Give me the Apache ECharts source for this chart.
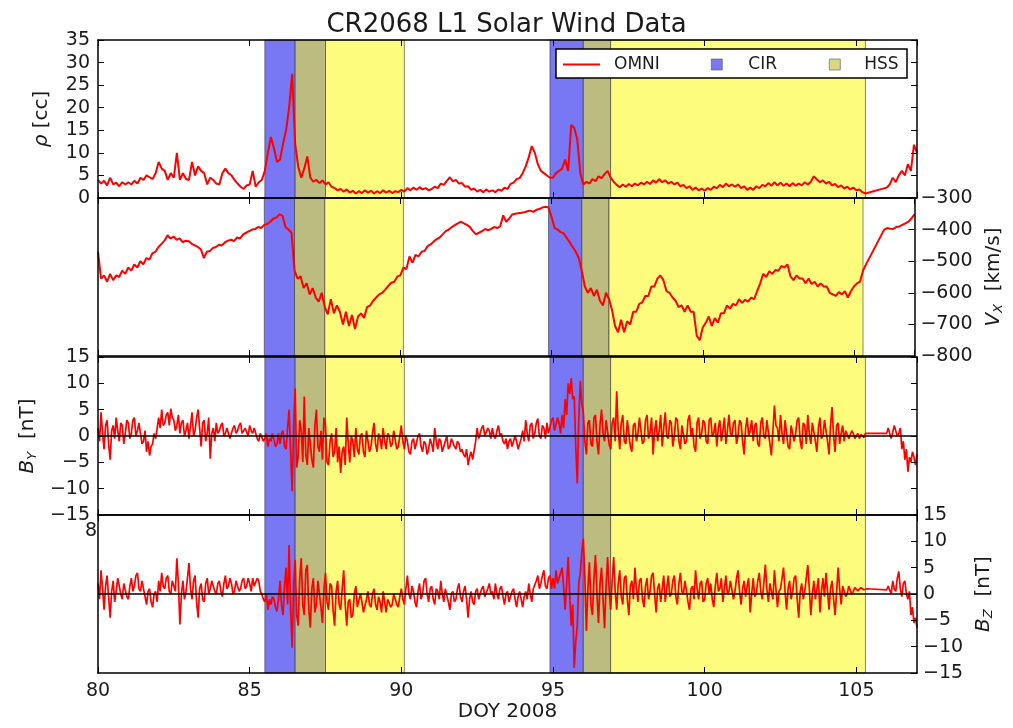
<!DOCTYPE html>
<html>
<head>
<meta charset="utf-8">
<script src="https://cdn.jsdelivr.net/npm/echarts@6/dist/echarts.min.js"></script>
<style>
  html, body { margin: 0; padding: 0; background: #ffffff; }
  #chart { width: 1013px; height: 728px; }
</style>
</head>
<body>
<div id="chart"></div>
<script>
// ---- Solar wind data, Carrington rotation 2068 (DOY 80 to 107, 2008) ----
// Plasma values on a 0.1 day cadence, field values on a 0.05 day cadence,
// both starting at DOY 80. null marks a data gap (bridged by a straight segment).
const T_START = 80;
const PLASMA_STEP = 0.1;
const FIELD_STEP = 0.05;

// Proton density rho [cc]
const rhoValues = [
  4.0,3.2,3.8,2.8,4.5,3.0,3.4,2.6,3.5,3.0,
  3.5,3.0,3.8,3.2,4.5,4.0,5.0,4.6,4.2,5.5,
  8.0,6.5,6.0,4.0,5.5,4.5,10.0,4.0,5.5,4.2,
  4.0,8.0,5.0,7.0,6.0,5.5,3.0,4.5,4.0,3.2,
  3.0,5.5,6.5,5.5,5.0,4.0,3.2,2.5,2.0,2.8,
  3.0,6.0,2.5,3.5,4.0,6.0,10.0,13.5,11.0,8.0,
  8.5,12.0,15.0,20.0,27.5,12.0,7.0,4.5,6.5,9.2,
  4.5,3.6,4.0,3.3,3.9,3.0,3.5,2.5,2.2,1.7,
  2.0,1.4,1.9,1.2,1.6,1.0,1.5,1.1,1.7,1.2,
  1.6,1.0,1.5,1.1,1.7,1.2,1.6,1.1,1.5,1.3,
  1.8,1.4,2.2,1.7,2.3,1.8,2.4,1.9,2.2,1.7,
  2.0,2.5,2.2,3.2,2.9,3.8,4.6,3.7,4.0,3.2,
  3.3,2.5,2.6,1.8,2.1,1.4,1.8,1.3,1.9,1.4,
  1.7,1.3,1.9,1.6,2.3,2.0,3.1,3.4,4.2,4.4,
  5.5,7.0,9.0,11.5,10.0,7.5,6.0,5.5,5.0,4.5,
  4.5,5.5,6.0,6.5,8.5,6.0,16.2,15.5,13.0,5.5,
  3.0,3.6,3.2,4.2,3.7,4.8,4.4,5.3,6.0,4.5,
  3.6,2.9,2.4,3.0,2.5,3.1,2.6,3.2,2.8,3.4,
  3.0,3.6,3.1,3.9,3.4,4.2,3.5,3.9,3.2,3.6,
  3.0,3.4,2.6,2.9,2.2,2.6,1.8,2.3,1.7,2.1,
  1.6,2.2,1.8,2.5,2.2,2.9,2.4,3.2,2.6,3.0,
  2.5,3.0,2.2,2.6,1.8,2.3,1.8,2.6,2.2,2.9,
  2.6,3.3,2.7,3.5,2.8,3.4,2.7,3.2,2.6,3.3,
  2.7,3.2,2.8,3.5,3.0,3.6,4.8,4.1,3.5,3.9,
  3.2,3.6,2.8,3.1,2.4,2.8,2.1,2.5,1.9,2.3,
  1.7,1.9,1.3,1.0,null,null,null,null,null,null,
  2.3,3.0,4.5,3.5,5.0,6.0,5.0,7.5,6.0,11.8,
  10.0
];

// Radial velocity Vx [km/s]
const vxValues = [
  -470,-555,-545,-565,-540,-560,-545,-550,-530,-540,
  -520,-530,-510,-520,-500,-510,-490,-495,-475,-470,
  -455,-445,-435,-418,-428,-422,-432,-428,-440,-435,
  -437,-445,-450,-455,-462,-490,-470,-468,-458,-455,
  -448,-450,-440,-435,-432,-436,-425,-428,-415,-410,
  -405,-400,-398,-392,-395,-385,-382,-375,-365,-362,
  -352,-356,-392,-400,-410,-530,-555,-548,-585,-570,
  -605,-585,-615,-628,-600,-645,-668,-620,-665,-640,
  -660,-700,-660,-705,-670,-715,-675,-665,-680,-645,
  -640,-625,-615,-605,-600,-590,-578,-568,-565,-548,
  -545,-520,-525,-485,-505,-480,-485,-470,-468,-452,
  -447,-438,-430,-425,-415,-405,-400,-392,-386,-380,
  -375,-380,-385,-392,-405,-415,-410,-405,-398,-402,
  -398,-392,-395,-390,-355,-375,-365,-352,-350,-348,
  -347,-345,-342,-340,-344,-337,-335,-330,-328,-330,
  -360,-395,-400,-408,-412,-426,-440,-455,-470,-490,
  -530,-580,-600,-585,-610,-590,-625,-640,-600,-620,
  -655,-705,-725,-685,-725,-690,-700,-660,-660,-635,
  -630,-610,-610,-580,-580,-555,-545,-560,-595,-600,
  -615,-625,-645,-640,-660,-640,-660,-660,-735,-750,
  -710,-695,-675,-705,-680,-695,-665,-665,-640,-650,
  -635,-640,-620,-632,-622,-628,-615,-620,-595,-570,
  -540,-550,-532,-540,-528,-530,-515,-520,-510,-548,
  -560,-545,-555,-555,-570,-555,-572,-565,-580,-570,
  -580,-580,-600,-605,-610,-598,-605,-595,-615,-595,
  -580,-570,-565,-530,-510,null,null,null,null,null,
  -400,-395,-397,-398,-392,-390,-385,-380,-375,-365,
  -352
];

// Magnetic field By [nT]
const byValues = [
  1.5,-1.0,4.5,0.5,-2.5,2.0,3.0,-1.5,-4.5,1.0,2.0,-0.5,3.5,1.0,-1.0,2.5,2.0,-1.5,0.5,3.0,
  2.5,-0.5,0.5,3.0,3.5,0.0,1.0,2.5,2.5,-1.5,-1.0,1.0,-3.0,-1.0,-3.7,-2.0,-1.5,0.5,-0.5,1.5,
  3.5,1.5,5.0,2.0,2.5,4.0,4.5,2.0,5.2,3.5,3.0,1.0,2.0,4.0,0.5,2.5,3.0,0.0,1.0,2.5,
  -0.5,2.0,4.5,0.0,1.0,3.5,5.0,1.5,-2.0,2.5,3.0,-1.0,0.5,3.5,-4.3,0.5,1.5,-1.0,2.5,0.5,
  1.0,2.0,2.5,0.0,0.5,1.5,1.5,-0.5,-0.5,1.5,2.0,0.5,1.0,2.0,2.5,0.5,0.5,1.5,1.5,0.0,
  2.0,1.0,0.5,1.5,1.5,-0.5,-1.0,0.5,0.5,-1.0,-0.5,0.5,-2.0,-0.5,-1.0,0.5,0.5,-2.0,-1.5,0.5,
  -1.5,0.5,1.0,-2.0,-2.5,1.5,5.0,-3.0,-10.5,2.0,9.0,-6.0,-4.0,3.0,1.0,-5.0,7.5,-3.5,-5.5,1.5,
  1.5,-4.5,-6.0,2.0,5.0,-2.0,-3.0,1.0,-4.5,3.5,2.0,-5.0,-5.5,-1.0,0.5,-4.0,-3.0,1.5,-5.0,-2.0,
  -7.0,-3.0,-2.0,-5.5,3.5,-1.5,-5.0,0.0,-1.0,-4.0,1.5,-2.5,-3.5,0.0,0.5,-3.0,-4.0,1.0,-1.0,-3.0,
  -2.0,0.5,2.5,-1.5,-3.0,0.5,-0.5,-2.5,1.5,-1.0,-2.5,0.5,0.0,-2.0,-1.5,1.0,1.0,-2.5,-2.0,0.0,
  2.0,-1.0,-2.5,0.0,-1.0,-3.0,-3.5,-1.0,-0.5,-2.5,-2.5,0.0,0.5,-2.0,-3.0,-1.0,-1.5,-3.5,-2.5,-0.5,
  -1.5,-3.0,1.5,-1.0,-2.5,-0.5,-1.0,-3.0,-3.0,-1.0,0.0,-2.5,-2.0,-0.5,-0.5,-2.0,-2.5,-1.0,-1.5,-3.0,
  -2.5,-3.5,-4.0,-2.5,-5.5,-4.0,-3.0,-4.5,-4.5,-1.0,1.5,-0.5,0.5,1.5,2.0,0.0,0.0,1.5,1.0,-0.5,
  1.5,0.0,-0.5,1.0,2.0,0.0,0.5,-1.0,-1.5,-0.5,-2.5,-1.0,-0.5,-2.0,-2.0,0.0,-1.0,-2.5,-2.5,-0.5,
  1.0,-1.0,3.0,0.5,-1.0,2.0,2.5,-0.5,0.5,2.5,3.3,0.0,-0.5,2.0,1.5,-0.5,2.5,0.5,0.5,3.0,
  3.5,1.0,1.0,3.5,2.5,0.5,4.0,1.5,7.0,4.0,10.0,8.0,11.0,7.0,7.5,-2.0,-9.0,3.0,10.5,6.0,
  4.5,-1.0,-3.5,2.5,3.0,-1.5,-2.0,3.5,4.0,-1.0,-3.5,2.0,5.0,0.5,-1.0,3.0,3.0,-1.5,-2.5,2.5,
  3.5,-1.0,8.5,1.0,-2.5,2.5,4.0,-1.0,-1.5,3.0,3.0,-2.0,-3.0,2.0,2.5,-1.0,0.5,3.5,3.5,-1.5,
  -1.0,3.0,4.0,-0.5,0.5,3.5,-3.5,1.0,3.0,-1.0,1.0,4.0,-2.0,1.5,4.5,0.0,-0.5,3.0,2.5,-2.0,
  0.0,3.5,3.0,-1.0,-2.5,2.0,2.0,-1.5,-1.0,3.0,4.0,0.0,1.5,-2.0,-3.0,2.5,3.5,-0.5,0.5,3.0,
  2.5,-1.0,-1.5,3.0,3.5,0.0,0.5,2.5,-2.0,1.5,3.0,-1.0,1.0,3.5,-1.5,1.0,4.0,0.5,0.0,2.5,
  3.0,-1.5,0.0,3.0,2.5,-1.0,-3.5,1.5,3.5,0.0,1.0,3.0,-1.0,2.0,2.5,-1.5,-2.0,2.5,3.5,0.0,
  -0.5,3.0,3.0,-1.5,-3.7,1.0,5.8,2.0,1.5,-1.0,4.0,0.5,-1.5,3.0,3.0,-2.0,-2.5,2.0,2.0,-1.0,
  0.5,3.0,3.5,-1.0,-2.5,2.5,2.0,-1.5,4.0,0.5,-1.5,2.5,2.5,-1.0,-3.0,1.5,3.5,-0.5,0.0,3.0,
  3.0,-1.0,-3.5,2.0,5.5,0.0,-3.0,2.0,2.5,-1.5,0.5,2.0,-1.0,1.0,1.0,-0.5,-0.5,1.0,0.5,-0.5,
  0.0,0.5,-0.5,0.3,0.3,-0.3,0.5,0.2,null,null,null,null,null,null,null,null,null,null,null,null,
  0.5,1.5,1.5,-0.5,-0.5,2.0,2.0,0.0,0.5,1.5,-2.5,-1.0,-4.5,-2.5,-6.8,-4.0,-5.0,-3.0,-4.0,-5.5,
  -3.5
];

// Magnetic field Bz [nT]
const bzValues = [
  2.0,-1.0,4.5,1.0,-3.0,1.5,3.5,-0.5,-4.5,0.5,2.5,-1.5,0.5,3.0,3.0,0.0,-1.0,2.0,2.0,-0.5,
  -1.0,1.5,3.0,0.5,1.5,3.5,4.0,1.0,0.5,2.5,2.5,-0.5,-2.0,0.5,1.0,-1.5,-2.5,0.0,0.5,-1.5,
  2.5,0.5,4.0,1.5,1.0,3.0,3.5,0.5,0.0,2.5,2.5,0.5,6.8,2.0,-5.8,0.0,2.5,-1.0,0.5,3.0,
  5.9,1.0,-1.0,2.5,3.5,-1.5,-4.5,1.0,2.0,-1.0,-1.5,2.0,3.0,0.0,1.0,2.5,2.5,0.5,0.0,2.0,
  2.5,0.5,-0.5,2.0,3.5,1.0,1.5,3.0,2.0,0.0,0.5,2.5,2.5,0.5,1.0,2.5,3.0,1.0,1.5,3.0,
  2.0,0.5,3.0,1.5,1.5,3.0,2.5,0.5,0.0,-1.0,-1.5,0.0,-3.0,-1.0,-2.0,-0.5,-1.0,-2.5,-3.3,-1.0,
  2.5,-2.0,-4.0,1.5,5.0,-2.0,9.3,-3.0,-10.2,2.0,6.5,-4.0,-6.0,3.0,6.8,-2.0,-4.0,4.5,5.5,-3.0,
  -6.4,1.0,3.0,-3.5,-2.0,2.5,2.5,-2.5,-5.5,1.0,4.0,-1.5,-3.0,2.0,1.5,-3.0,-6.0,0.5,2.5,-2.0,
  -3.0,1.0,4.5,-2.0,-6.0,-1.5,-1.0,-4.5,-4.0,0.0,1.5,-2.5,-2.5,0.0,-1.5,-3.5,-3.5,-1.0,0.5,-2.0,
  -2.5,0.0,1.0,-2.0,-3.0,-0.5,-1.5,-3.5,0.5,-1.5,-3.5,-1.0,-1.0,-2.5,-2.0,0.0,0.0,-2.0,-2.5,-0.5,
  1.0,-1.0,-2.0,1.0,3.5,0.0,-1.0,1.5,0.5,-1.5,-2.5,0.5,2.0,-1.0,0.0,2.5,3.0,0.0,-1.5,1.0,
  1.5,-1.0,-2.0,1.0,0.5,-1.0,2.5,0.0,-1.5,1.0,1.0,-1.5,-3.0,0.0,0.5,-1.5,-1.0,1.0,2.0,-0.5,
  -1.5,0.5,1.5,-1.0,-4.5,-1.0,0.5,-1.5,-2.0,0.5,1.0,-1.0,-1.0,1.0,1.5,-0.5,-0.5,1.0,2.0,0.0,
  0.5,-1.0,2.0,0.0,-1.0,1.0,1.5,-0.5,-2.0,0.0,0.5,-1.5,-1.5,0.5,1.0,-1.0,-2.5,-0.5,0.5,-1.0,
  -2.5,-0.5,0.5,-1.0,2.0,0.0,-1.5,1.0,1.0,2.5,3.5,1.0,2.0,3.5,4.5,1.5,1.0,3.0,3.5,1.0,
  3.0,1.0,4.5,2.0,2.0,4.0,5.0,1.5,-3.0,2.0,7.0,0.0,-6.0,-2.0,-14.0,-9.0,-6.0,2.0,4.0,8.0,
  10.5,3.0,-7.0,1.0,6.0,-2.0,-4.0,3.0,7.4,0.0,-5.5,2.0,5.0,-1.0,-6.5,1.5,7.0,1.0,-3.0,2.5,
  7.0,0.5,-3.0,2.0,4.5,-0.5,-2.0,3.0,3.5,-1.0,-4.0,1.5,2.5,-1.0,5.0,1.0,-1.5,2.5,3.0,-1.0,
  -2.5,1.5,3.0,-1.0,0.5,3.5,4.0,0.0,-3.5,1.0,2.0,-1.5,1.0,3.5,-1.5,1.0,3.5,-0.5,0.0,2.5,
  3.5,-0.5,-2.0,2.0,4.0,0.5,0.0,2.5,2.5,-1.5,-3.0,1.0,1.5,-1.0,4.5,1.0,-1.0,2.0,2.5,-1.5,
  -1.0,2.0,3.0,0.0,2.0,-1.0,-2.5,1.5,4.0,0.5,1.0,3.0,-1.5,1.0,3.5,0.0,0.5,2.5,2.5,-1.0,
  0.5,3.0,4.5,0.5,-2.0,1.0,2.5,-0.5,1.5,3.0,-3.5,0.0,3.0,-0.5,0.0,2.5,4.0,0.5,-1.0,2.0,
  5.6,1.0,-1.5,2.0,2.0,-1.0,4.5,1.0,-2.5,0.5,1.0,3.0,5.0,0.5,-3.0,1.0,2.5,-1.0,0.5,3.0,
  3.5,-1.0,-4.5,0.5,2.0,-1.0,0.5,3.0,5.5,1.0,-4.0,0.0,2.5,-1.0,1.0,3.0,-3.5,0.5,3.0,-0.5,
  4.0,0.5,-3.0,1.0,2.5,-1.0,-4.0,0.5,5.0,1.0,-2.0,1.5,1.5,-0.5,0.0,1.5,1.5,0.0,0.5,1.2,
  1.0,0.6,0.5,1.2,1.2,0.8,0.8,1.0,null,null,null,null,null,null,null,null,null,null,null,null,
  0.8,1.5,1.5,0.0,2.5,1.0,0.5,3.0,4.3,1.0,-0.5,2.0,2.5,0.0,-1.0,0.5,-4.0,-2.5,-5.5,-4.5,
  -6.4
];

// Event intervals (DOY)
const cirSpans = [[85.5, 86.5], [94.9, 96.0]];
const hssLeadSpans = [[86.5, 87.5], [96.0, 96.9]];
const hssSpans = [[87.5, 90.1], [96.9, 105.3]];

// Axis ranges
const dayRange = { min: 80, max: 107, interval: 5 };
const rhoRange = { min: 0, max: 35, interval: 5 };
const vxRange = { min: -800, max: -300, interval: 100 };
const bRange = { min: -15, max: 15, interval: 5 };

// ---- Chart construction ----
const FONT = 'DejaVu Sans';
const INK = '#1a1a1a';
const CIR_COLOR = '#7878f4';
const HSS_COLOR = '#d9d77f';
const HSS_LEAD_COLOR = '#bcbb80';
const HSS_FILL = '#fdfc7c';

const gridTops = [40, 198, 357, 515];
const gridH = 158;

const minusFmt = v => String(v).replace('-', '\u2212');

function onGrid(values, step) {
  return values.map((v, i) => [Math.round((T_START + i * step) * 100) / 100, v]);
}

const panels = [
  { range: rhoRange, labelSide: 'left', ticksLeft: true, name: '{i|\u03c1} [cc]', gap: 46,
    data: onGrid(rhoValues, PLASMA_STEP), zero: false, width: 2 },
  { range: vxRange, labelSide: 'right', ticksLeft: false, name: '{i|V}{s|X}  [km/s]', gap: 66,
    data: onGrid(vxValues, PLASMA_STEP), zero: false, width: 2 },
  { range: bRange, labelSide: 'left', ticksLeft: true, name: '{i|B}{s|Y}  [nT]', gap: 58,
    data: onGrid(byValues, FIELD_STEP), zero: true, width: 1.7 },
  { range: bRange, labelSide: 'right', ticksLeft: false, name: '{i|B}{s|Z}  [nT]', gap: 53,
    data: onGrid(bzValues, FIELD_STEP), zero: true, width: 1.7 }
];

const nameRich = {
  i: { fontFamily: FONT, fontStyle: 'italic', fontSize: 20, color: INK },
  s: { fontFamily: FONT, fontStyle: 'italic', fontSize: 13, color: INK, verticalAlign: 'bottom', padding: [10, 0, 0, 0] }
};

const spine = { show: true, onZero: false, lineStyle: { color: '#000', width: 1.5 } };
const tick = { show: true, inside: true, length: 6, lineStyle: { color: '#000', width: 1 } };
const tickFont = { fontFamily: FONT, fontSize: 19, color: INK };

const grid = [], xAxis = [], yAxis = [], series = [];

panels.forEach((p, g) => {
  grid.push({ left: 98, right: 96, top: gridTops[g], height: gridH, containLabel: false });

  const isBottom = g === panels.length - 1;
  xAxis.push({
    gridIndex: g, type: 'value', position: 'bottom', z: 6,
    min: dayRange.min, max: dayRange.max, interval: dayRange.interval,
    axisLine: spine, axisTick: tick, splitLine: { show: false },
    axisLabel: { show: isBottom, margin: 9, showMaxLabel: false, ...tickFont,
      formatter: v => (v % dayRange.interval === 0 ? String(v) : '') },
    name: isBottom ? 'DOY 2008' : '', nameLocation: 'middle', nameGap: 29,
    nameTextStyle: { fontFamily: FONT, fontSize: 20, color: INK }
  });
  xAxis.push({
    gridIndex: g, type: 'value', position: 'top', z: 6,
    min: dayRange.min, max: dayRange.max, interval: dayRange.interval,
    axisLine: spine, axisTick: tick, splitLine: { show: false }, axisLabel: { show: false }
  });

  const r = p.range;
  const leftLabels = p.labelSide === 'left';
  yAxis.push({
    gridIndex: g, type: 'value', position: 'left', z: 6,
    min: r.min, max: r.max, interval: r.interval,
    axisLine: spine, axisTick: { ...tick, show: p.ticksLeft }, splitLine: { show: false },
    axisLabel: { show: leftLabels, margin: 8, ...tickFont, formatter: minusFmt },
    name: leftLabels ? p.name : '', nameLocation: 'middle', nameRotate: 90, nameGap: p.gap,
    nameTextStyle: { fontFamily: FONT, fontSize: 20, color: INK, rich: nameRich }
  });
  yAxis.push({
    gridIndex: g, type: 'value', position: 'right', z: 6,
    min: r.min, max: r.max, interval: r.interval,
    axisLine: spine, axisTick: tick, splitLine: { show: false },
    axisLabel: { show: !leftLabels, margin: 6, ...tickFont, formatter: minusFmt },
    name: leftLabels ? '' : p.name, nameLocation: 'middle', nameRotate: 90, nameGap: p.gap,
    nameTextStyle: { fontFamily: FONT, fontSize: 20, color: INK, rich: nameRich }
  });

  const xi = 2 * g, yi = 2 * g;
  const edge = { borderColor: 'rgba(40,40,40,0.55)', borderWidth: 1 };

  // CIR shading
  series.push({
    name: 'CIR', type: 'line', xAxisIndex: xi, yAxisIndex: yi, data: [], z: 1,
    color: CIR_COLOR, itemStyle: { color: CIR_COLOR }, symbol: 'none', silent: true,
    markArea: {
      silent: true,
      itemStyle: { color: CIR_COLOR, ...edge },
      data: cirSpans.map(s => [{ xAxis: s[0] }, { xAxis: s[1] }])
    }
  });
  // HSS shading
  series.push({
    name: 'HSS', type: 'line', xAxisIndex: xi, yAxisIndex: yi, data: [], z: 1,
    color: HSS_COLOR, itemStyle: { color: HSS_COLOR }, symbol: 'none', silent: true,
    markArea: {
      silent: true,
      data: hssLeadSpans.map(s => [{ xAxis: s[0], itemStyle: { color: HSS_LEAD_COLOR, ...edge } }, { xAxis: s[1] }])
        .concat(hssSpans.map(s => [{ xAxis: s[0], itemStyle: { color: HSS_FILL, ...edge } }, { xAxis: s[1] }]))
    }
  });
  // OMNI measurements
  const line = {
    name: 'OMNI', type: 'line', xAxisIndex: xi, yAxisIndex: yi, data: p.data, z: 3,
    symbol: 'none', showSymbol: false, silent: true, clip: true, connectNulls: true,
    color: '#ff0000', lineStyle: { color: '#ff0000', width: p.width }
  };
  if (p.zero) {
    line.markLine = {
      silent: true, symbol: ['none', 'none'], label: { show: false },
      lineStyle: { color: '#000', width: 1.5, type: 'solid' },
      data: [{ yAxis: 0 }]
    };
  }
  series.push(line);
});

const legendText = (pad) => ({ fontFamily: FONT, fontSize: 17, color: INK, padding: [0, 0, 0, pad] });

const option = {
  backgroundColor: '#ffffff',
  animation: false,
  title: {
    text: 'CR2068 L1 Solar Wind Data', left: 'center', top: 7,
    textStyle: { fontFamily: FONT, fontSize: 26, fontWeight: 'normal', color: INK }
  },
  grid, xAxis, yAxis, series,
  legend: [
    { data: [{ name: 'OMNI', icon: 'rect' }], left: 563, top: 56, padding: 0, itemWidth: 37, itemHeight: 2, z: 20,
      selectedMode: false, textStyle: legendText(9), itemStyle: { color: '#ff0000' } },
    { data: [{ name: 'CIR', icon: 'rect' }], left: 711, top: 56, padding: 0, itemWidth: 11, itemHeight: 11, z: 20,
      selectedMode: false, textStyle: legendText(21), itemStyle: { borderColor: '#555', borderWidth: 0.6 } },
    { data: [{ name: 'HSS', icon: 'rect' }], left: 829, top: 56, padding: 0, itemWidth: 11, itemHeight: 11, z: 20,
      selectedMode: false, textStyle: legendText(19), itemStyle: { borderColor: '#555', borderWidth: 0.6 } }
  ],
  graphic: [
    { type: 'rect', z: 10, silent: true,
      shape: { x: 556, y: 49, width: 351, height: 29 },
      style: { fill: '#ffffff', stroke: '#000', lineWidth: 1.5 } },
    { type: 'text', z: 10, silent: true, x: 97, y: 531,
      style: { text: '8', font: '19px "DejaVu Sans"', fill: INK, align: 'right', verticalAlign: 'middle' } }
  ]
};

const chart = echarts.init(document.getElementById('chart'), null, { renderer: 'canvas' });
chart.setOption(option);
</script>
</body>
</html>
